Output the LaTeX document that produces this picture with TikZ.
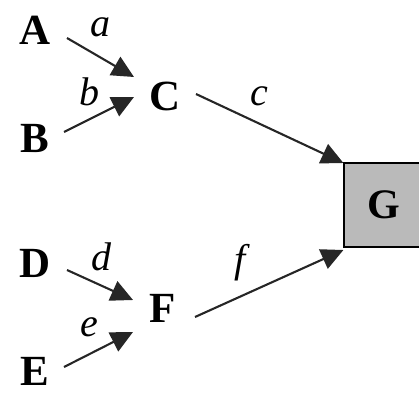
\documentclass[tikz,border=0pt]{standalone}
\usepackage{fontspec}
\setmainfont{Liberation Serif}
\usetikzlibrary{arrows.meta}

\begin{document}
\begin{tikzpicture}[
			x=1pt, y=-1pt,
			letter/.style={
				inner sep=0pt,
				font=\fontsize{43}{43}\selectfont\bfseries
			},
			lbl/.style={
				inner sep=0pt,
				font=\fontsize{40}{40}\selectfont\itshape
			},
			outbox/.style={
				rectangle,
				draw,
				line width=1.2pt,
				fill=black!27,
				minimum width=80pt,
				minimum height=84pt,
				font=\fontsize{42}{42}\selectfont\bfseries
			},
			arrow/.style={-{Triangle[length=22pt,width=21pt]}, line width=2.1pt, black!85}
			]
			\useasboundingbox (0,0) rectangle (419,393);
			
			\node (A) [letter] at (35,30) {A};
			\node (B) [letter] at (35,138) {B};
			\node (C) [letter] at (165,96) {C};
			
			\node (D) [letter] at (35,263) {D};
			\node (E) [letter] at (35,371) {E};
			\node (F) [letter] at (163,308) {F};
			
			\node (G) [outbox] at (384,205) {G};
			
			\node (la) [lbl] at (100,27) {a};
			\node (lb) [lbl] at (89,92) {b};
			\node (lc) [lbl] at (259,96) {c};
			\node (ld) [lbl] at (101,257) {d};
			\node (le) [lbl] at (89,327) {e};
			\node (lf) [lbl] at (240,263) {f};
			
			\draw [arrow] ([shift={(32,8)}]A.center) -- ([shift={(-31,-19)}]C.center);
			\draw [arrow] ([shift={(29,-6)}]B.center) -- ([shift={(-31,1)}]C.center);
			\draw [arrow] ([shift={(31,-2)}]C.center) -- ([shift={(0,-42)}]G.west);
			
			\draw [arrow] ([shift={(32,7)}]D.center) -- ([shift={(-30,-8)}]F.center);
			\draw [arrow] ([shift={(29,-4)}]E.center) -- ([shift={(-30,24)}]F.center);
			\draw [arrow] ([shift={(32,9)}]F.center) -- ([shift={(0,45)}]G.west);
			
		\end{tikzpicture}
\end{document}
